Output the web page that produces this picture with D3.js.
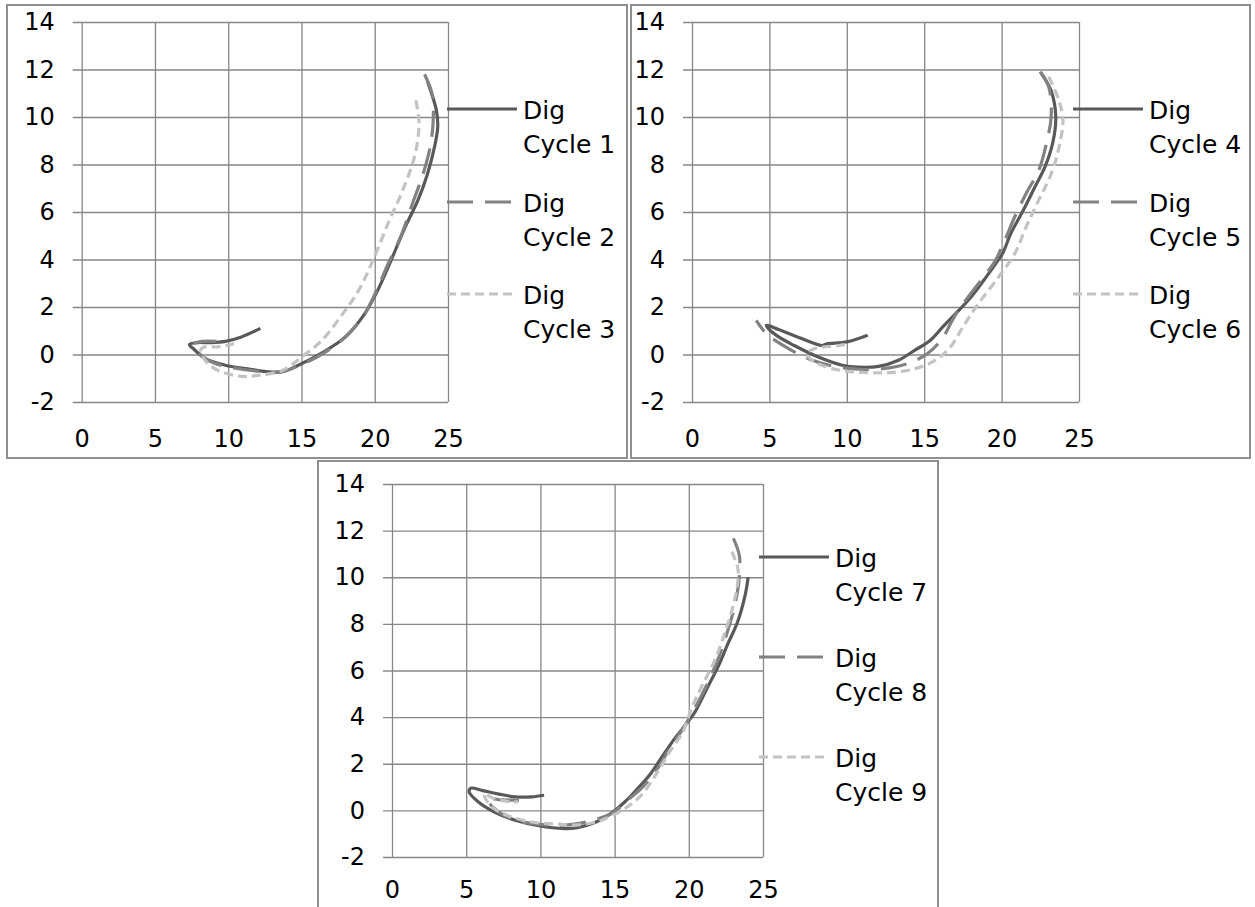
<!DOCTYPE html>
<html>
<head>
<meta charset="utf-8">
<script src="https://cdn.jsdelivr.net/npm/d3@7"></script>
<style>
  body { margin: 0; background: #fff; }
  svg text { font-family: "DejaVu Sans", sans-serif; fill: #000; }
</style>
</head>
<body>
<script>
// axis values shared by all three charts
var xTicks = [0, 5, 10, 15, 20, 25];
var yTicks = [-2, 0, 2, 4, 6, 8, 10, 12, 14];

// digitised cycles, [x, y] pairs
var cycle1 = [[23.6,11.5],[24.2,10.3],[24.3,9.6],[24.1,8.8],[23.6,7.6],[22.95,6.5],[22.1,5.4],[21.0,3.8],[20.2,2.7],[19.3,1.7],[18.0,0.74],[16.4,0.07],[14.75,-0.46],[13.7,-0.72],[12.6,-0.72],[11.5,-0.62],[9.8,-0.45],[8.5,-0.2],[7.7,0.2],[7.35,0.42],[7.9,0.5],[8.7,0.5],[9.8,0.55],[10.9,0.74],[12.2,1.1]];
var cycle2 = [[23.4,11.8],[23.9,11.0],[24.0,10.0],[23.8,8.8],[23.3,7.6],[22.6,6.4],[21.8,5.0],[20.9,3.8],[20.2,2.8],[19.3,1.7],[18.1,0.8],[16.5,0.05],[15.0,-0.42],[13.5,-0.74],[12.0,-0.7],[10.5,-0.58],[9.0,-0.35],[8.0,0.05],[7.6,0.42],[8.2,0.55],[9.2,0.55]];
var cycle3 = [[22.8,10.7],[23.0,10.0],[23.0,9.4],[22.7,8.3],[21.9,6.9],[21.0,5.65],[19.9,4.0],[18.9,2.7],[17.8,1.7],[16.4,0.6],[15.0,-0.11],[13.7,-0.67],[12.0,-0.88],[10.9,-0.92],[9.3,-0.67],[8.5,-0.3],[8.1,0.15],[8.3,0.3],[9.3,0.32],[10.4,0.45]];
var cycle4 = [[22.5,11.9],[23.2,11.1],[23.5,10.0],[23.3,8.9],[22.8,7.9],[22.15,7.05],[21.4,6.07],[20.6,5.1],[20.1,4.3],[19.8,4.0],[19.0,3.26],[18.0,2.4],[17.0,1.7],[16.2,1.16],[15.4,0.6],[14.4,0.18],[13.3,-0.25],[12.05,-0.5],[10.75,-0.53],[9.7,-0.45],[8.2,-0.12],[6.6,0.38],[5.6,0.74],[4.95,1.08],[4.8,1.23],[5.6,1.05],[6.9,0.72],[8.4,0.38],[8.7,0.45],[10.0,0.53],[11.35,0.81]];
var cycle5 = [[22.5,11.9],[23.05,11.26],[23.2,10.0],[22.9,8.9],[22.4,7.75],[21.6,6.8],[20.85,5.8],[20.2,4.8],[19.6,3.96],[19.0,3.4],[18.0,2.56],[17.2,1.86],[16.7,1.3],[16.2,0.7],[15.2,0.03],[13.9,-0.39],[12.3,-0.6],[10.75,-0.62],[9.2,-0.5],[7.6,-0.2],[6.1,0.3],[4.8,0.88],[4.15,1.44]];
var cycle6 = [[23.05,11.7],[23.7,10.7],[23.96,9.86],[23.7,8.7],[23.2,7.6],[22.4,6.5],[21.6,5.4],[20.85,4.25],[19.8,3.26],[18.5,2.14],[17.5,1.16],[16.7,0.32],[15.7,-0.25],[14.4,-0.6],[12.8,-0.76],[11.3,-0.76],[9.7,-0.68],[8.2,-0.4],[7.4,0.02],[7.9,0.24],[9.5,0.38],[10.2,0.45]];
var cycle7 = [[24.0,10.0],[23.8,9.24],[23.3,8.1],[22.6,7.1],[22.0,6.2],[21.2,5.2],[20.4,4.2],[19.7,3.6],[18.9,2.95],[18.2,2.3],[17.4,1.55],[16.5,0.9],[15.7,0.37],[14.9,-0.06],[13.8,-0.49],[12.4,-0.75],[11.6,-0.78],[9.9,-0.66],[8.3,-0.42],[6.9,-0.07],[5.8,0.37],[5.2,0.8],[5.3,0.95],[6.1,0.85],[7.2,0.7],[8.3,0.58],[9.4,0.58],[10.25,0.65]];
var cycle8 = [[23.0,11.67],[23.4,10.95],[23.4,9.95],[23.1,8.8],[22.6,7.66],[21.9,6.37],[21.2,5.37],[20.4,4.37],[19.6,3.5],[18.7,2.65],[17.9,1.8],[16.8,0.94],[15.8,0.4],[14.9,-0.1],[13.8,-0.38],[12.4,-0.58],[11.0,-0.64],[9.4,-0.56],[8.0,-0.35],[6.9,0.08],[6.4,0.5],[7.4,0.45],[8.7,0.44]];
var cycle9 = [[22.9,11.1],[23.3,10.4],[23.3,9.8],[23.0,8.8],[22.45,7.66],[21.8,6.5],[20.9,5.37],[20.2,4.4],[19.6,3.37],[18.7,2.5],[17.9,1.65],[16.8,0.65],[15.7,0.08],[14.9,-0.2],[13.8,-0.49],[12.4,-0.63],[11.0,-0.58],[9.4,-0.5],[7.7,-0.2],[6.6,0.22],[6.2,0.72],[6.9,0.5],[8.0,0.37],[8.5,0.37]];

var seriesNames = ["Dig Cycle 1","Dig Cycle 2","Dig Cycle 3","Dig Cycle 4","Dig Cycle 5","Dig Cycle 6","Dig Cycle 7","Dig Cycle 8","Dig Cycle 9"];
var seriesData = [cycle1, cycle2, cycle3, cycle4, cycle5, cycle6, cycle7, cycle8, cycle9];

// line look for 1st / 2nd / 3rd cycle of each chart
var lineStyles = [
  {color: "#595959", dash: null},
  {color: "#828282", dash: "26,12"},
  {color: "#c3c3c3", dash: "9,5"}
];

// chart boxes on the page
var panels = [
  {frame: [7, 5, 627, 458],    plot: [81.7, 22, 448, 402], legendX: 447,  legendY: [109, 202, 294], xLabelGap: 36},
  {frame: [631, 5, 1250, 458], plot: [692, 22, 1079, 402], legendX: 1073, legendY: [109, 202, 294], xLabelGap: 36},
  {frame: [318, 461, 938, 912], plot: [392, 484, 763, 857], legendX: 759, legendY: [557, 657, 757], xLabelGap: 32}
];

var svg = d3.select("body").append("svg")
  .attr("width", 1255)
  .attr("height", 907);

panels.forEach(function(p, pi){
  //outer frame
  svg.append("rect")
    .attr("x", p.frame[0]).attr("y", p.frame[1])
    .attr("width", p.frame[2] - p.frame[0]).attr("height", p.frame[3] - p.frame[1])
    .attr("fill", "#fff").attr("stroke", "#8f8f8f").attr("stroke-width", 2);

  var x = d3.scaleLinear().domain([0, 25]).range([p.plot[0], p.plot[2]]);
  var y = d3.scaleLinear().domain([-2, 14]).range([p.plot[3], p.plot[1]]);
  var w = p.plot[2] - p.plot[0], h = p.plot[3] - p.plot[1];

  //horizontal grid + y labels (ticks stick out 9px), plain hyphen for minus
  var yAxis = svg.append("g")
    .attr("transform", "translate(" + (p.plot[0] - 9) + ",0)")
    .call(d3.axisLeft(y).tickValues(yTicks).tickSize(-(w + 9)).tickPadding(18).tickFormat(function(d){ return String(d); }));
  yAxis.select(".domain").remove();
  yAxis.selectAll("line").attr("stroke", "#878787").attr("stroke-width", 1.3);
  yAxis.selectAll("text").attr("font-size", 24).attr("font-family", "DejaVu Sans");

  //vertical grid + x labels
  var xAxis = svg.append("g")
    .attr("transform", "translate(0," + p.plot[3] + ")")
    .call(d3.axisBottom(x).tickValues(xTicks).tickSize(-h).tickFormat(function(d){ return String(d); }));
  xAxis.select(".domain").remove();
  xAxis.selectAll("line").attr("stroke", "#878787").attr("stroke-width", 1.3);
  xAxis.selectAll("text")
    .attr("font-size", 24).attr("font-family", "DejaVu Sans")
    .attr("y", p.xLabelGap).attr("dy", "0.36em");

  var line = d3.line()
    .x(function(d){ return x(d[0]); })
    .y(function(d){ return y(d[1]); })
    .curve(d3.curveCatmullRom.alpha(0.5));

  for (var k = 0; k < 3; k++) {
    var si = pi * 3 + k;
    var st = lineStyles[k];

    svg.append("path")
      .datum(seriesData[si])
      .attr("d", line)
      .attr("fill", "none")
      .attr("stroke", st.color)
      .attr("stroke-width", 3.2)
      .attr("stroke-linejoin", "round")
      .attr("stroke-dasharray", st.dash);

    //legend entry
    var ly = p.legendY[k];
    svg.append("line")
      .attr("x1", p.legendX).attr("x2", p.legendX + 70)
      .attr("y1", ly).attr("y2", ly)
      .attr("stroke", st.color).attr("stroke-width", 3.2)
      .attr("stroke-dasharray", st.dash);

    var words = seriesNames[si].split(" ");
    var t = svg.append("text")
      .attr("x", p.legendX + 76).attr("y", ly + 10)
      .attr("font-size", 25);
    t.append("tspan").attr("x", p.legendX + 76).text(words[0]);
    t.append("tspan").attr("x", p.legendX + 76).attr("dy", 34).text(words[1] + " " + words[2]);
  }
});
</script>
</body>
</html>
